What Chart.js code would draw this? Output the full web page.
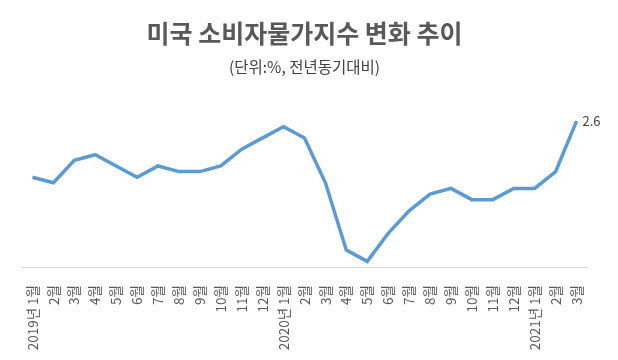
<!DOCTYPE html>
<html>
<head>
<meta charset="utf-8">
<script src="https://cdn.jsdelivr.net/npm/chart.js@4"></script>
<style>
  html, body { margin: 0; padding: 0; background: #fff; }
  #wrap { width: 618px; height: 360px; }
</style>
</head>
<body>
<div id="wrap"><canvas id="cpiChart" width="618" height="360"></canvas></div>
<script>
// month labels (2019.1 ~ 2021.3)
const months = [
  '2019년 1월', '2월', '3월', '4월', '5월', '6월', '7월', '8월', '9월', '10월', '11월', '12월',
  '2020년 1월', '2월', '3월', '4월', '5월', '6월', '7월', '8월', '9월', '10월', '11월', '12월',
  '2021년 1월', '2월', '3월'
];

// 미국 CPI 전년동기대비 (%)
const cpiValues = [
  1.6, 1.5, 1.9, 2.0, 1.8, 1.6, 1.8, 1.7, 1.7, 1.8, 2.1, 2.3,
  2.5, 2.3, 1.5, 0.3, 0.1, 0.6, 1.0, 1.3, 1.4, 1.2, 1.2, 1.4,
  1.4, 1.7, 2.6
];

const FONT = "'Noto Sans CJK KR', 'Noto Sans', sans-serif";

// show the value only at the last point
const lastLabel = {
  id: 'lastLabel',
  afterDatasetsDraw(chart) {
    const meta = chart.getDatasetMeta(0);
    const idx = meta.data.length - 1;
    const pt = meta.data[idx];
    const ctx = chart.ctx;
    ctx.save();
    ctx.font = '13px ' + FONT;
    ctx.fillStyle = '#404040';
    ctx.textAlign = 'left';
    ctx.textBaseline = 'middle';
    ctx.fillText(cpiValues[idx].toFixed(1), pt.x + 6, pt.y);
    ctx.restore();
  }
};

new Chart(document.getElementById('cpiChart').getContext('2d'), {
  type: 'line',
  data: {
    labels: months,
    datasets: [{
      data: cpiValues,
      borderColor: '#5b9bd5',
      borderWidth: 3.5,
      pointRadius: 0,
      tension: 0,
      fill: false
    }]
  },
  options: {
    responsive: false,
    animation: false,
    layout: { padding: { left: 22, right: 31, top: 0, bottom: 0 } },
    plugins: {
      legend: { display: false },
      tooltip: { enabled: false },
      title: {
        display: true,
        text: '미국 소비자물가지수 변화 추이',
        color: '#595959',
        font: { family: FONT, size: 25, weight: 'bold' },
        padding: { top: 18, bottom: 10 }
      },
      subtitle: {
        display: true,
        text: '(단위:%, 전년동기대비)',
        color: '#404040',
        font: { family: FONT, size: 15.5 },
        padding: { top: 0, bottom: 22 }
      }
    },
    scales: {
      x: {
        offset: true,
        grid: { display: false },
        border: { color: '#d9d9d9', width: 1 },
        ticks: {
          color: '#595959',
          font: { family: FONT, size: 13.5 },
          minRotation: 90,
          maxRotation: 90,
          autoSkip: false,
          padding: 10
        },
        afterFit(scale) { scale.height = 93; }
      },
      y: {
        display: false,
        min: 0,
        max: 3
      }
    }
  },
  plugins: [lastLabel]
});
</script>
</body>
</html>
